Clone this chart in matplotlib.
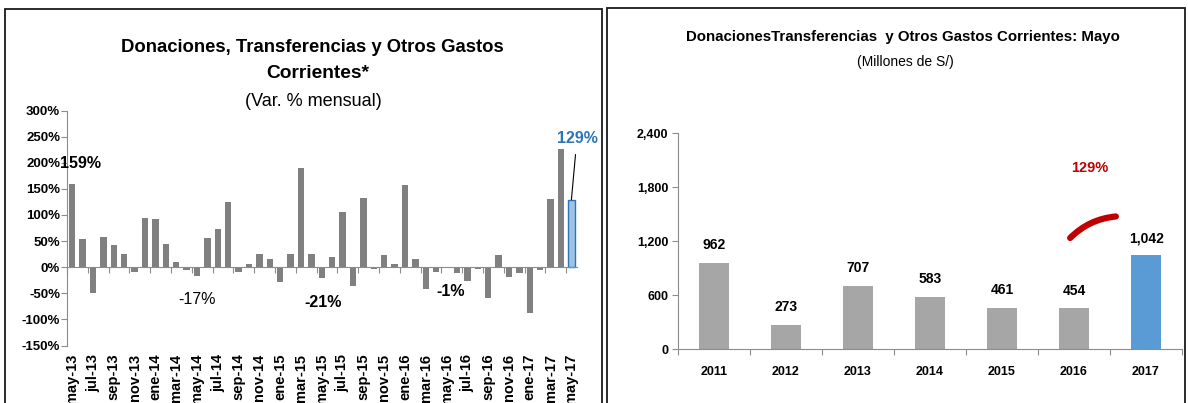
import matplotlib
matplotlib.use("Agg")
import matplotlib.pyplot as plt
from matplotlib import font_manager
from matplotlib.patches import Rectangle, FancyArrowPatch
import matplotlib.transforms as mtransforms
import numpy as np

# ---------------- data ----------------
months = ["may-13", "jun-13", "jul-13", "ago-13", "sep-13", "oct-13", "nov-13", "dic-13",
          "ene-14", "feb-14", "mar-14", "abr-14", "may-14", "jun-14", "jul-14", "ago-14",
          "sep-14", "oct-14", "nov-14", "dic-14", "ene-15", "feb-15", "mar-15", "abr-15",
          "may-15", "jun-15", "jul-15", "ago-15", "sep-15", "oct-15", "nov-15", "dic-15",
          "ene-16", "feb-16", "mar-16", "abr-16", "may-16", "jun-16", "jul-16", "ago-16",
          "sep-16", "oct-16", "nov-16", "dic-16", "ene-17", "feb-17", "mar-17", "abr-17",
          "may-17"]
var_mensual = [159, 53, -50, 58, 42, 25, -10, 95,
               92, 45, 9, -5, -17, 56, 73, 125,
               -10, 6, 26, 15, -29, 26, 189, 26,
               -21, 20, 106, -37, 133, -4, 23, 6,
               158, 15, -42, -9, -1, -12, -26, -4,
               -59, 23, -18, -12, -87, -6, 131, 227,
               129]
labeled_months = ["may-13", "may-14", "may-15", "may-16", "may-17"]

years = ["2011", "2012", "2013", "2014", "2015", "2016", "2017"]
mayo_values = [962, 273, 707, 583, 461, 454, 1042]
growth_label = "129%"

# ---------------- fonts ----------------
available = {f.name for f in font_manager.fontManager.ttflist}
FONT = "Liberation Sans Narrow" if "Liberation Sans Narrow" in available else "Liberation Sans"
plt.rcParams["font.family"] = [FONT, "DejaVu Sans"]

W, H = 1188, 403
fig = plt.figure(figsize=(W / 100, H / 100), dpi=100)
fig.patch.set_facecolor("white")

def fx(px):
    return px / W

def fy(py):
    return 1 - py / H

# panel frames
for x0, x1, ytop in [(5, 602, 9), (607, 1185, 8)]:
    fig.add_artist(Rectangle((fx(x0), -0.05), fx(x1) - fx(x0), fy(ytop) + 0.05,
                             transform=fig.transFigure, fill=False,
                             edgecolor="#1a1a1a", linewidth=1.3))

AXC = "#8c8c8c"

# ---------------- left chart ----------------
n = len(months)
ax1 = fig.add_axes([fx(67), fy(345.5), fx(67 + 49 * 10.4) - fx(67), fy(110.5) - fy(345.5)])
x = np.arange(n)
colors = ["#808080"] * (n - 1) + ["#9DC3E6"]
edges = ["#808080"] * (n - 1) + ["#2E75B6"]
ax1.bar(x, var_mensual, width=0.62, color=colors, edgecolor=edges, linewidth=[0] * (n - 1) + [1.0])
ax1.set_xlim(-0.5, n - 0.5)
ax1.set_ylim(-150, 300)
ax1.set_yticks(np.arange(-150, 301, 50))
ax1.set_yticklabels([f"{v}%" for v in range(-150, 301, 50)], fontweight="bold", fontsize=9.5)
for s in ["top", "right"]:
    ax1.spines[s].set_visible(False)
ax1.spines["left"].set_color(AXC)
ax1.spines["bottom"].set_position(("data", 0))
ax1.spines["bottom"].set_color(AXC)
ax1.set_xticks(np.arange(-0.5, n - 0.5, 2))
ax1.set_xticklabels([])
ax1.tick_params(axis="x", direction="out", length=4, color=AXC)
ax1.tick_params(axis="y", direction="out", length=4, color=AXC, pad=1)
trans = mtransforms.blended_transform_factory(ax1.transData, ax1.transAxes)
for i in range(0, n, 2):
    ax1.text(i, -0.035, months[i], transform=trans, rotation=90, ha="center", va="top",
             fontsize=10.5, fontweight="bold")

# data labels (manually offset like the original)
offsets = {"may-13": (6, 15), "may-14": (0, -17), "may-15": (1, -17.5), "may-16": (3, -17), "may-17": (4, 44)}
weights = {"may-13": "bold", "may-14": "normal", "may-15": "bold", "may-16": "bold", "may-17": "bold"}
for m in labeled_months:
    i = months.index(m)
    v = var_mensual[i]
    dx, dy = offsets[m]
    if m == "may-17":
        ax1.annotate(f"{v}%", xy=(i, v), xytext=(dx, dy), textcoords="offset points",
                     ha="center", va="center", fontsize=11.5, fontweight="bold", color="#2E75B6",
                     arrowprops=dict(arrowstyle="-", color="black", lw=0.8, shrinkA=4, shrinkB=0))
    else:
        ax1.annotate(f"{v}%", xy=(i, v), xytext=(dx, dy), textcoords="offset points",
                     ha="center", va="center", fontsize=11.5, fontweight=weights[m], color="black")

fig.text(fx(312), fy(47), "Donaciones, Transferencias y Otros Gastos", ha="center", va="center",
         fontsize=13.3, fontweight="bold")
fig.text(fx(318), fy(73), "Corrientes*", ha="center", va="center", fontsize=13.8, fontweight="bold")
fig.text(fx(313), fy(101), "(Var. % mensual)", ha="center", va="center", fontsize=13)

# ---------------- right chart ----------------
ax2 = fig.add_axes([fx(678), fy(349.3), fx(1182) - fx(678), fy(133) - fy(349.3)])
xr = np.arange(len(years))
rcolors = ["#A6A6A6"] * (len(years) - 1) + ["#5B9BD5"]
ax2.bar(xr, mayo_values, width=0.41, color=rcolors)
ax2.set_xlim(-0.5, len(years) - 0.5)
ax2.set_ylim(0, 2400)
ax2.set_yticks(np.arange(0, 2401, 600))
ax2.set_yticklabels([f"{v:,}" for v in range(0, 2401, 600)], fontweight="bold", fontsize=9)
ax2.set_xticks(np.arange(-0.5, len(years), 1))
ax2.set_xticklabels([])
ax2.set_xticks(xr, minor=True)
ax2.set_xticklabels(years, minor=True, fontweight="bold", fontsize=9)
ax2.tick_params(axis="x", which="major", direction="out", length=4, color=AXC)
ax2.tick_params(axis="x", which="minor", length=0, pad=12)
ax2.tick_params(axis="y", direction="out", length=4, color=AXC, pad=3)
for s in ["top", "right"]:
    ax2.spines[s].set_visible(False)
ax2.spines["left"].set_color(AXC)
ax2.spines["bottom"].set_color(AXC)
for i, v in enumerate(mayo_values):
    ax2.annotate(f"{v:,}", xy=(i, v), xytext=(0, 12.5), textcoords="offset points",
                 ha="center", va="center", fontsize=10, fontweight="bold")

ax2.text(5.22, 2012, growth_label, ha="center", va="center", fontsize=10.5, fontweight="bold",
         color="#C00000")
arc = FancyArrowPatch((4.92, 1213), (5.62, 1476), connectionstyle="arc3,rad=-0.2",
                      arrowstyle="-", color="#C00000", lw=4.5, capstyle="round")
ax2.add_patch(arc)

fig.text(fx(903), fy(37), "DonacionesTransferencias  y Otros Gastos Corrientes: Mayo", ha="center",
         va="center", fontsize=10.8, fontweight="bold")
fig.text(fx(905), fy(62), "(Millones de S/)", ha="center", va="center", fontsize=10)

fig.savefig("out.png", dpi=100, facecolor="white")
